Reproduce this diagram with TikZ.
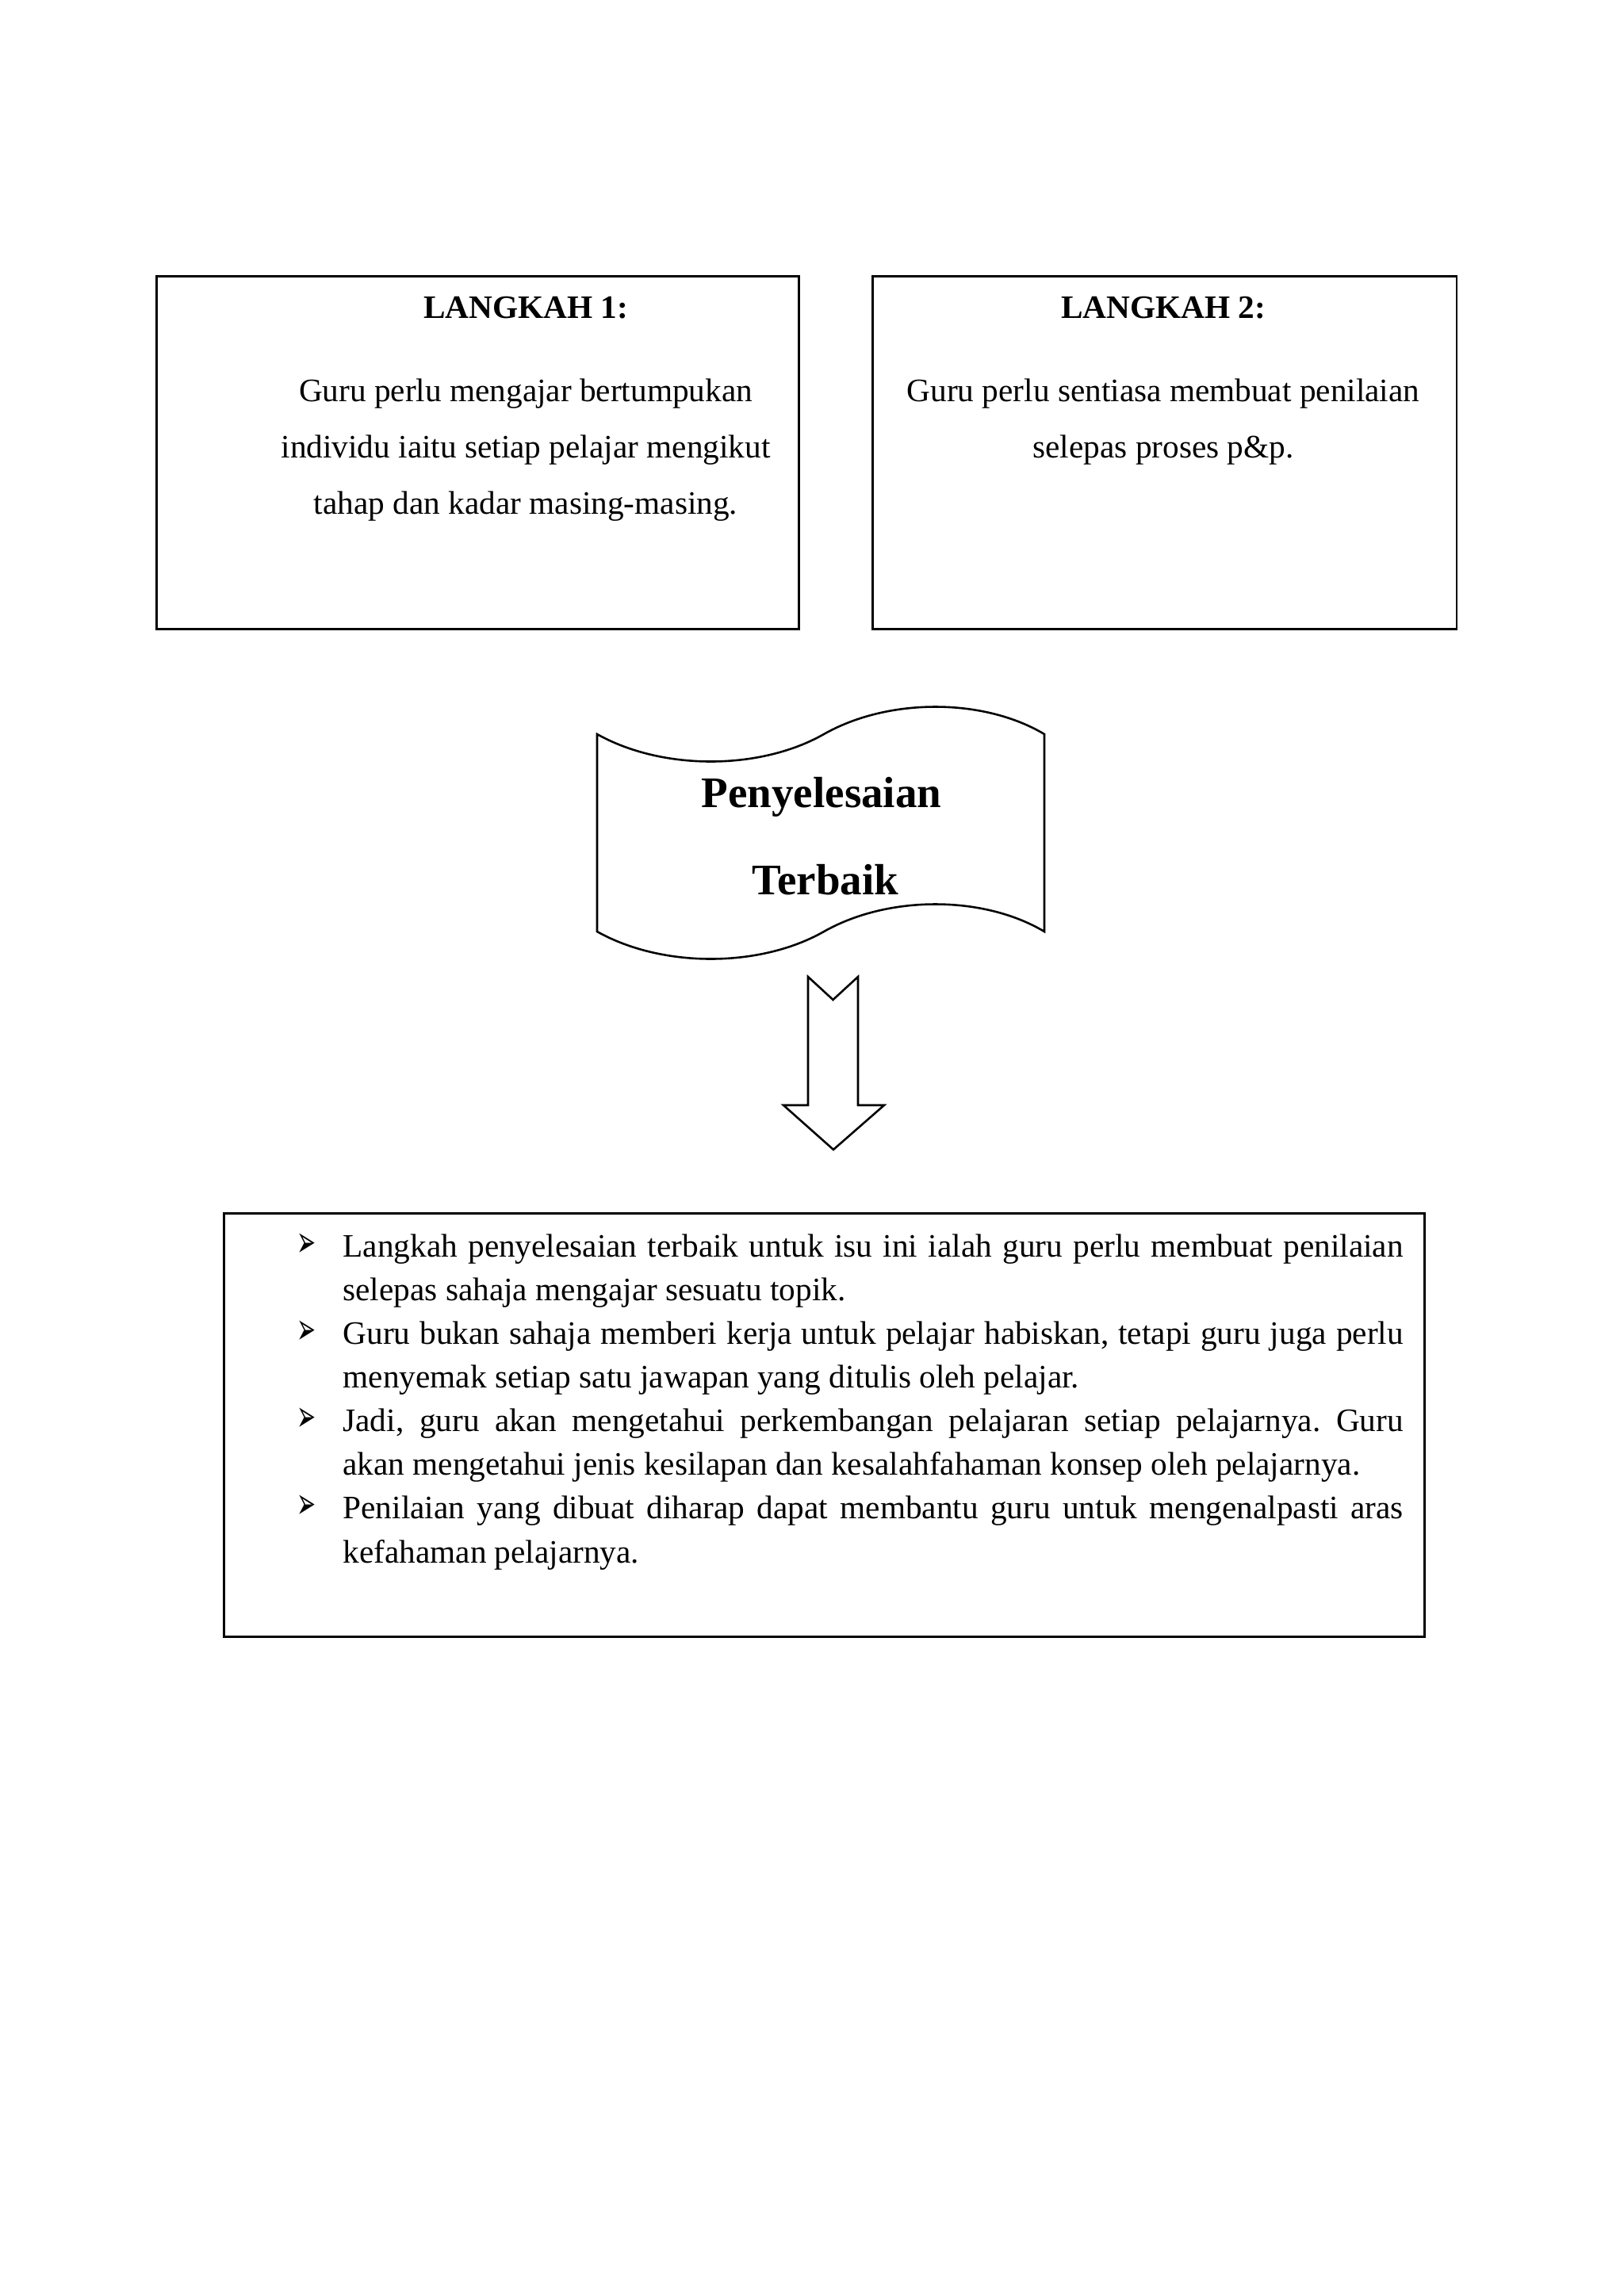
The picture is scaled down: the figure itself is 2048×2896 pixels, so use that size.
\documentclass[tikz,border=0pt]{standalone}
\usepackage{graphicx}
\usepackage{fontspec}
\setmainfont{Liberation Serif}
\newfontfamily\dejavu{DejaVu Sans}
\newcommand\bulletmark{\resizebox{7pt}{8.6pt}{\dejavu ➢}}
\newcommand\bitem[1]{\par\noindent\hangindent=18pt\hangafter=1\makebox[18pt][l]{\hspace{1.2pt}\bulletmark}\strut #1\par}
\begin{document}
\begin{tikzpicture}[x=0.2907pt,y=-0.2907pt,
  boxshape/.style={draw, line width=0.75pt, inner sep=0pt, anchor=north west},
  outline/.style={draw, line width=0.75pt, line join=miter},
  txt/.style={anchor=base, inner sep=0pt, font=\fontsize{12pt}{14pt}\selectfont},
  headtxt/.style={anchor=base, inner sep=0pt, font=\bfseries\fontsize{12pt}{14pt}\selectfont},
  bigtxt/.style={anchor=base, inner sep=0pt, font=\bfseries\fontsize{16pt}{18pt}\selectfont}]
\fill[white] (0,0) rectangle (2048,2896);
\useasboundingbox (0,0) rectangle (2048,2896);

% Box 1
\node[boxshape, minimum width=235.5pt, minimum height=129.4pt] (b1) at (196,347) {};
\node[headtxt] (h1) at (663,401) {LANGKAH 1:};
\node[txt] (t1a) at (663,506) {Guru perlu mengajar bertumpukan};
\node[txt] (t1b) at (663,577) {individu iaitu setiap pelajar mengikut};
\node[txt] (t1c) at (663,648) {tahap dan kadar masing-masing.};

% Box 2
\node[boxshape, minimum width=214.2pt, minimum height=129.4pt] (b2) at (1099,347) {};
\node[headtxt] (h2) at (1467,401) {LANGKAH 2:};
\node[txt] (t2a) at (1467,506) {Guru perlu sentiasa membuat penilaian};
\node[txt] (t2b) at (1467,577) {selepas proses p\&p.};

% Flag (wave) shape
\draw[outline] (753,926) .. controls (835,972) and (958,972) .. (1039,926)
  .. controls (1120,880) and (1240,880) .. (1317,926)
  -- (1317,1175)
  .. controls (1240,1129) and (1120,1129) .. (1039,1175)
  .. controls (958,1221) and (835,1221) .. (753,1175) -- cycle;
\node[bigtxt] (f1) at (1036,1018) {Penyelesaian};
\node[bigtxt] (f2) at (1041,1128) {Terbaik};

% Block arrow
\draw[outline] (1019,1232) -- (1050.5,1261) -- (1082,1232) -- (1082,1394)
  -- (1115,1394) -- (1051,1450) -- (988,1394) -- (1019,1394) -- cycle;

% Box 3
\node[boxshape, minimum width=440.1pt, minimum height=155.2pt] (b3) at (281,1529) {};
\node[anchor=north west, inner sep=0pt, text width=406.7pt, align=justify,
      font=\fontsize{12pt}{16pt}\selectfont] (list) at (370,1530) {%
\frenchspacing\hyphenpenalty=10000\exhyphenpenalty=10000\emergencystretch=10pt%
\bitem{Langkah penyelesaian terbaik untuk isu ini ialah guru perlu membuat penilaian\linebreak selepas sahaja mengajar sesuatu topik.}%
\bitem{Guru bukan sahaja memberi kerja untuk pelajar habiskan, tetapi guru juga perlu\linebreak menyemak setiap satu jawapan yang ditulis oleh pelajar.}%
\bitem{Jadi, guru akan mengetahui perkembangan pelajaran setiap pelajarnya. Guru\linebreak akan mengetahui jenis kesilapan dan kesalahfahaman konsep oleh pelajarnya.}%
\bitem{Penilaian yang dibuat diharap dapat membantu guru untuk mengenalpasti aras\linebreak kefahaman pelajarnya.}%
};
\end{tikzpicture}
\end{document}
